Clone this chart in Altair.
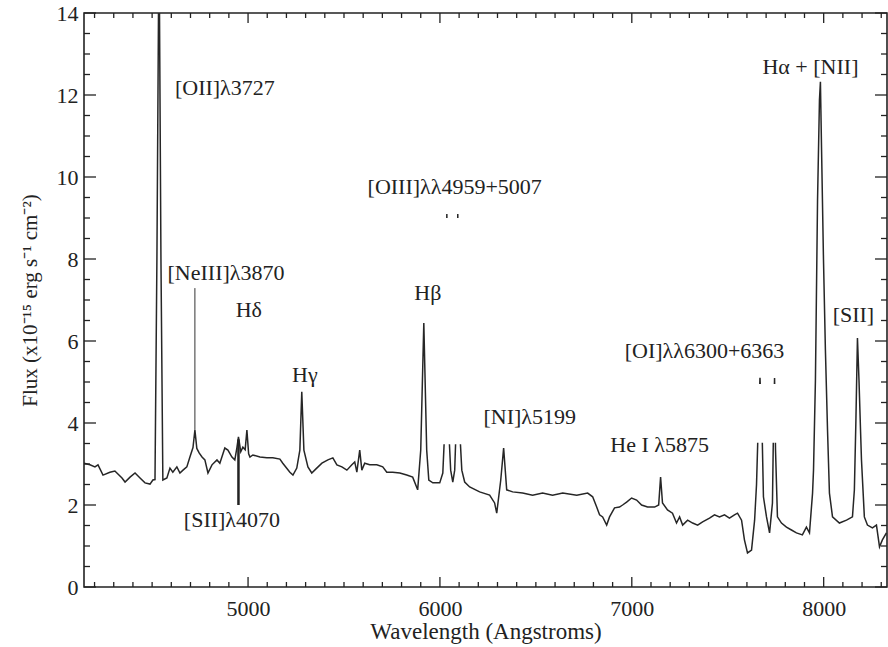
import altair as alt
import pandas as pd

# Observed-frame optical spectrum (wavelength in Angstroms, flux in 1e-15 erg/s/cm^2)
wavelength = [
    4145, 4176, 4202, 4218, 4244, 4280, 4306, 4343, 4359, 4385, 4411, 4437, 4463,
    4489, 4504, 4515, 4525, 4536, 4546, 4556, 4577, 4593, 4608, 4629, 4645, 4661,
    4681, 4697, 4713, 4723, 4733, 4745, 4760, 4775, 4791, 4812, 4838, 4853, 4879,
    4895, 4916, 4931, 4942, 4950, 4962, 4973, 4985, 4994, 5003, 5010, 5025, 5062,
    5098, 5129, 5166, 5181, 5218, 5234, 5254, 5270, 5280, 5291, 5312, 5332, 5358,
    5385, 5416, 5442, 5463, 5489, 5515, 5541, 5556, 5567, 5582, 5593, 5608, 5634,
    5671, 5702, 5723, 5754, 5791, 5827, 5858, 5884, 5900, 5916, 5931, 5942, 5963,
    5999, 6015, 6025, 6036, 6046, 6056, 6067, 6077, 6084, 6093, 6103, 6114, 6129,
    6155, 6207, 6259, 6285, 6296, 6317, 6332, 6348, 6379, 6431, 6483, 6535, 6587,
    6640, 6713, 6770, 6796, 6817, 6832, 6848, 6869, 6884, 6910, 6936, 6952, 6973,
    6999, 7025, 7051, 7082, 7119, 7140, 7150, 7160, 7186, 7212, 7233, 7249, 7265,
    7291, 7317, 7343, 7369, 7405, 7431, 7457, 7483, 7509, 7535, 7551, 7572, 7587,
    7603, 7624, 7640, 7650, 7658, 7668, 7679, 7686, 7702, 7718, 7733, 7739, 7744,
    7749, 7759, 7780, 7806, 7832, 7858, 7889, 7910, 7926, 7942, 7947, 7957, 7968,
    7978, 7983, 7989, 7999, 8009, 8020, 8030, 8046, 8082, 8119, 8150, 8160, 8168,
    8176, 8184, 8192, 8197, 8212, 8228, 8254, 8275, 8291, 8306, 8327,
]
flux = [
    3.02, 2.98, 2.93, 2.98, 2.73, 2.80, 2.83, 2.66, 2.56, 2.68, 2.78, 2.66, 2.54,
    2.51, 2.61, 2.62, 8.00, 16.0, 8.00, 2.61, 2.66, 2.90, 2.80, 2.93, 2.78, 2.85,
    2.93, 3.17, 3.40, 3.83, 3.38, 3.27, 3.17, 3.10, 2.78, 2.98, 3.10, 3.02, 3.39,
    3.34, 3.17, 3.10, 3.40, 3.66, 3.30, 3.41, 3.35, 3.83, 3.25, 3.17, 3.22, 3.17,
    3.15, 3.15, 3.12, 3.02, 2.80, 2.73, 2.90, 3.34, 4.76, 3.34, 2.93, 2.78, 2.90,
    3.02, 3.10, 3.15, 2.98, 2.93, 2.85, 2.98, 3.05, 2.80, 3.34, 2.85, 3.02, 2.98,
    2.98, 2.93, 2.80, 2.80, 2.78, 2.73, 2.68, 2.37, 3.34, 6.44, 3.34, 2.61, 2.54,
    2.54, 2.78, 3.83, 9.10, 3.83, 2.85, 2.56, 2.85, 3.83, 9.10, 3.83, 2.85, 2.56,
    2.44, 2.32, 2.24, 2.05, 1.80, 2.61, 3.39, 2.37, 2.32, 2.29, 2.24, 2.29, 2.24,
    2.29, 2.24, 2.29, 2.20, 1.95, 1.76, 1.71, 1.51, 1.71, 1.93, 1.95, 2.00, 2.07,
    2.17, 2.12, 2.00, 1.95, 1.95, 2.00, 2.68, 2.05, 1.88, 1.80, 1.56, 1.71, 1.51,
    1.63, 1.56, 1.51, 1.59, 1.68, 1.76, 1.71, 1.76, 1.68, 1.76, 1.80, 1.63, 1.15,
    0.83, 0.90, 1.63, 2.50, 3.80, 5.10, 3.80, 2.20, 1.71, 1.32, 2.05, 4.07, 5.10,
    3.34, 1.71, 1.56, 1.46, 1.39, 1.32, 1.27, 1.46, 1.32, 2.29, 2.85, 5.05, 9.44,
    11.88, 12.32, 10.66, 7.98, 5.78, 3.83, 2.29, 1.71, 1.56, 1.63, 1.71, 2.37, 4.07,
    6.07, 5.05, 3.83, 3.10, 1.71, 1.51, 1.44, 1.51, 0.98, 1.15, 1.32,
]

# Emission-line annotations
label_text = [
    "[OII]λ3727", "[NeIII]λ3870", "Hδ", "Hγ", "Hβ", "[OIII]λλ4959+5007",
    "[NI]λ5199", "He I λ5875", "[OI]λλ6300+6363", "Hα + [NII]", "[SII]",
    "[SII]λ4070",
]
label_wl = [4879, 4885, 5004, 5296, 5937, 6077, 6468, 7145, 7379, 7931, 8155, 4916]
label_flux = [12.17, 7.66, 6.76, 5.17, 7.17, 9.76, 4.15, 3.46, 5.76, 12.68, 6.63, 1.63]

# Pointer from the [NeIII] label down to its line
neiii_wl = [4723]
neiii_lo = [3.83]
neiii_hi = [7.29]

# Pointer from the [SII]λ4070 label up to its line
sii_wl = [4950]
sii_lo = [2.0]
sii_hi = [3.6]

# White label backgrounds that hide the upper parts of the [OIII] and [OI] lines
mask_x0 = [6015, 7600]
mask_x1 = [6180, 7820]
mask_y0 = [3.48, 3.52]
mask_y1 = [9.0, 4.95]

# Axis tick values
x_major = [5000, 6000, 7000, 8000]
x_minor = [v for v in range(4200, 8400, 100) if v % 1000 != 0]
y_major = [0, 2, 4, 6, 8, 10, 12, 14]
y_minor = [i * 0.5 for i in range(1, 28) if i % 4 != 0]

W, H = 803, 574
FONT = "Liberation Serif"
INK = "#222222"

xs = alt.Scale(domain=[4145, 8330], nice=False, zero=False)
ys = alt.Scale(domain=[0, 14], nice=False, zero=False)

# One axis definition per channel, shared by every layer so they merge cleanly
X_AXIS = alt.Axis(
    values=x_major, format="d", ticks=False, domain=False, grid=False,
    labelFont=FONT, labelFontSize=22, labelColor=INK, labelPadding=11,
    title="Wavelength (Angstroms)", titleFont=FONT, titleFontSize=23,
    titleFontWeight="normal", titleColor=INK, titlePadding=1,
)
Y_AXIS = alt.Axis(
    values=y_major, format="d", ticks=False, domain=False, grid=False,
    labelFont=FONT, labelFontSize=22, labelColor=INK, labelPadding=6,
    title="Flux (x10⁻¹⁵ erg s⁻¹ cm⁻²)", titleFont=FONT, titleFontSize=21,
    titleFontWeight="normal", titleColor=INK, titlePadding=16,
)


def xq(field):
    return alt.X(field, type="quantitative", scale=xs, axis=X_AXIS)


def yq(field):
    return alt.Y(field, type="quantitative", scale=ys, axis=Y_AXIS)


spec_df = pd.DataFrame({"wl": wavelength, "flux": flux})
spectrum = alt.Chart(spec_df).mark_line(
    color="#262626", strokeWidth=1.5, clip=True
).encode(x=xq("wl"), y=yq("flux"), order="wl:Q")

mask_df = pd.DataFrame({"x0": mask_x0, "x1": mask_x1, "y0": mask_y0, "y1": mask_y1})
masks = alt.Chart(mask_df).mark_rect(color="white").encode(
    x=xq("x0"), x2="x1:Q", y=yq("y0"), y2="y1:Q",
)

neiii_df = pd.DataFrame({"wl": neiii_wl, "lo": neiii_lo, "hi": neiii_hi})
neiii_ptr = alt.Chart(neiii_df).mark_rule(color="#333333", strokeWidth=1).encode(
    x=xq("wl"), y=yq("lo"), y2="hi:Q",
)

sii_df = pd.DataFrame({"wl": sii_wl, "lo": sii_lo, "hi": sii_hi})
sii_ptr = alt.Chart(sii_df).mark_rule(color="#222222", strokeWidth=2.5).encode(
    x=xq("wl"), y=yq("lo"), y2="hi:Q",
)

lab_df = pd.DataFrame({"t": label_text, "wl": label_wl, "f": label_flux})
labels = alt.Chart(lab_df).mark_text(
    font=FONT, fontSize=22, color=INK, align="center", baseline="middle"
).encode(x=xq("wl"), y=yq("f"), text="t:N")


def x_ticks(vals, length):
    df = pd.DataFrame({"v": vals})
    base = alt.Chart(df).mark_rule(color=INK, strokeWidth=1.3)
    bottom = base.encode(x=xq("v"), y=alt.value(H), y2=alt.value(H - length))
    top = base.encode(x=xq("v"), y=alt.value(0), y2=alt.value(length))
    return [bottom, top]


def y_ticks(vals, length):
    df = pd.DataFrame({"v": vals})
    base = alt.Chart(df).mark_rule(color=INK, strokeWidth=1.3)
    left = base.encode(y=yq("v"), x=alt.value(0), x2=alt.value(length))
    right = base.encode(y=yq("v"), x=alt.value(W), x2=alt.value(W - length))
    return [left, right]


tick_layers = (
    x_ticks(x_major, 10) + x_ticks(x_minor, 5)
    + y_ticks(y_major, 12) + y_ticks(y_minor, 6)
)

chart = alt.layer(
    spectrum, masks, neiii_ptr, sii_ptr, labels, *tick_layers
).properties(
    width=W, height=H,
    autosize=alt.AutoSizeParams(type="none"),
    padding={"left": 84, "top": 13, "right": 1, "bottom": 60},
    background="white",
).configure_view(
    stroke="#222222", strokeWidth=1.6
)

chart.save("out.html", embed_options={"renderer": "svg", "actions": False})
